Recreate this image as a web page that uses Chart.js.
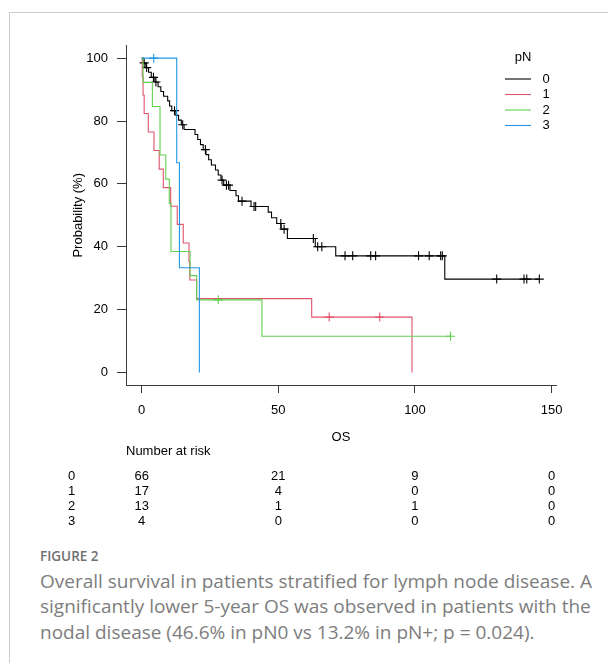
<!DOCTYPE html>
<html><head><meta charset="utf-8">
<script src="https://cdn.jsdelivr.net/npm/chart.js@4.4.0/dist/chart.umd.min.js"></script>
<style>
html,body{margin:0;padding:0;background:#fff;width:608px;height:663px;overflow:hidden;}
#card{position:absolute;left:9px;top:12px;width:640px;height:700px;border-top:1px solid #cdcdcd;border-left:1px solid #cdcdcd;}
#wrap{position:absolute;left:0;top:0;width:608px;height:540px;}
#fig{position:absolute;left:40px;top:547px;font-family:"Open Sans";font-weight:600;font-size:13.5px;color:#707070;white-space:nowrap;}
#cap{position:absolute;left:40px;top:568.5px;font-family:"Open Sans";font-size:19px;line-height:25.5px;color:#7d7d7d;white-space:nowrap;}
</style></head>
<body>
<div id="card"></div>
<div id="wrap"><canvas id="c" width="608" height="540"></canvas></div>
<div id="fig">FIGURE 2</div>
<div id="cap">Overall survival in patients stratified for lymph node disease. A<br>significantly lower 5-year OS was observed in patients with the<br>nodal disease (46.6% in pN0 vs 13.2% in pN+; p = 0.024).</div>
<script>
// ---- data ----
const groupLabels = ['0', '1', '2', '3'];
const groupColors = ['#000000', '#DF536B', '#61D04F', '#2297E6'];

// Kaplan-Meier step points (time, survival %)
const timesN0 = [0, 0.5, 1.5, 2.5, 3.5, 4.8, 6.0, 7.0, 8.0, 9.5, 10.2, 11.0, 12.5, 13.5, 14.5, 15.5, 19.5, 20.5, 21.5, 22.5, 23.5, 24.5, 25.5, 27.0, 28.0, 29.0, 30.0, 32.3, 34.5, 35.4, 40.0, 46.3, 47.5, 49.4, 51.0, 53.3, 63.5, 71.0, 110.9, 145.5];
const survN0  = [100, 98.5, 97.0, 95.5, 93.9, 92.4, 90.9, 89.4, 87.9, 86.4, 84.8, 83.3, 81.8, 80.3, 78.8, 77.3, 75.7, 74.1, 72.5, 70.9, 69.3, 67.7, 66.0, 64.4, 62.8, 61.2, 59.6, 57.9, 56.2, 54.5, 52.8, 51.0, 49.2, 47.4, 45.6, 42.6, 40.0, 37.1, 29.7, 29.7];
const censorN0 = [0.9, 1.8, 4.3, 5.2, 12.0, 15.0, 23.3, 29.4, 31.0, 31.8, 36.7, 41.1, 41.7, 50.9, 52.1, 62.8, 64.4, 65.9, 74.4, 77.2, 83.8, 85.6, 101.3, 105.2, 109.4, 110.0, 129.9, 139.9, 140.9, 145.5];

const timesN1 = [0, 0.2, 0.5, 0.9, 2.4, 4.5, 6.4, 7.9, 10.6, 13.0, 15.2, 17.3, 17.6, 20.1, 62.2, 98.9];
const survN1  = [100, 94.1, 88.2, 82.4, 76.5, 70.6, 64.7, 58.8, 52.9, 47.1, 41.2, 35.3, 29.4, 23.5, 17.6, 0];
const censorN1 = [68.6, 87.1];

const timesN2 = [0, 0.5, 3.9, 6.7, 8.8, 10.1, 10.7, 17.7, 20.1, 44.0, 113.0];
const survN2  = [100, 92.3, 84.6, 69.2, 61.5, 53.8, 38.5, 30.8, 23.1, 11.5, 11.5];
const censorN2 = [28.0, 113.0];

const timesN3 = [0, 12.8, 13.8, 21.1];
const survN3  = [100, 66.7, 33.3, 0];
const censorN3 = [4.4];

const xTicks = [0, 50, 100, 150];
const yTicks = [0, 20, 40, 60, 80, 100];
const riskTimes = [0, 50, 100, 150];
const riskN0 = [66, 21, 9, 0];
const riskN1 = [17, 4, 0, 0];
const riskN2 = [13, 1, 1, 0];
const riskN3 = [4, 0, 0, 0];

// ---- build ----
const allTimes = [timesN0, timesN1, timesN2, timesN3];
const allSurv = [survN0, survN1, survN2, survN3];
const allCens = [censorN0, censorN1, censorN2, censorN3];
const allRisk = [riskN0, riskN1, riskN2, riskN3];

function survAt(ts, ss, t) {
  let v = ss[0];
  for (let i = 0; i < ts.length; i++) { if (ts[i] <= t) v = ss[i]; }
  return v;
}

const datasets = [];
for (let g = 0; g < 4; g++) {
  datasets.push({
    label: groupLabels[g],
    data: allTimes[g].map((t, i) => ({x: t, y: allSurv[g][i]})),
    borderColor: groupColors[g],
    borderWidth: 1.1,
    stepped: 'before',
    pointRadius: 0,
    fill: false,
    order: 4 - g
  });
}
for (let g = 0; g < 4; g++) {
  datasets.push({
    type: 'scatter',
    label: 'cens' + g,
    data: allCens[g].map(t => ({x: t, y: survAt(allTimes[g], allSurv[g], t)})),
    showLine: false,
    pointStyle: 'cross',
    pointRadius: 4.5,
    borderColor: groupColors[g],
    borderWidth: 1.1,
    order: 4 - g
  });
}

const FONT = '"Liberation Sans", Arial, sans-serif';
const TXT = '#000';
const AX = '#3a3a3a';
const FS = 13;

const customPlugin = {
  id: 'kmExtras',
  afterDraw(chart) {
    const ctx = chart.ctx;
    const xs = chart.scales.x;
    ctx.save();
    ctx.font = FS + 'px ' + FONT;
    ctx.fillStyle = TXT;
    ctx.textBaseline = 'middle';
    // legend
    ctx.textAlign = 'center';
    ctx.fillText('pN', 523, 57);
    for (let g = 0; g < 4; g++) {
      const y = 79 + g * 15.5;
      ctx.strokeStyle = groupColors[g];
      ctx.lineWidth = 1.1;
      ctx.beginPath(); ctx.moveTo(505, y); ctx.lineTo(531, y); ctx.stroke();
      ctx.fillStyle = TXT;
      ctx.fillText(groupLabels[g], 546, y);
    }
    // number at risk
    ctx.textAlign = 'left';
    ctx.fillText('Number at risk', chart.chartArea.left, 451.7);
    ctx.textAlign = 'center';
    for (let g = 0; g < 4; g++) {
      const y = 476 + g * 15.3;
      ctx.fillText(groupLabels[g], 71.7, y);
      for (let k = 0; k < riskTimes.length; k++) {
        ctx.fillText(String(allRisk[g][k]), xs.getPixelForValue(riskTimes[k]), y);
      }
    }
    ctx.restore();
  }
};

new Chart(document.getElementById('c'), {
  type: 'line',
  data: {datasets},
  options: {
    responsive: false,
    devicePixelRatio: 1,
    animation: false,
    layout: {padding: {left: 0, right: 52, top: 45.6, bottom: 95}},
    plugins: {legend: {display: false}, tooltip: {enabled: false}},
    scales: {
      x: {
        type: 'linear', min: -5.75, max: 151.6,
        afterBuildTicks: s => { s.ticks = xTicks.map(v => ({value: v})); },
        afterFit: s => { s.height = 60; s.paddingLeft = 0; s.paddingRight = 0; },
        grid: {display: true, drawOnChartArea: false, drawTicks: true, tickLength: 8, color: AX, lineWidth: 1},
        border: {display: true, color: AX, width: 1},
        ticks: {color: TXT, font: {family: FONT, size: FS}, padding: 10, maxRotation: 0, autoSkip: false},
        title: {display: true, text: 'OS', color: TXT, font: {family: FONT, size: FS}, padding: {top: 0, bottom: 0.2}}
      },
      y: {
        type: 'linear', min: -4, max: 104,
        afterBuildTicks: s => { s.ticks = yTicks.map(v => ({value: v})); },
        afterFit: s => { s.width = 126; s.paddingTop = 0; s.paddingBottom = 0; },
        grid: {display: true, drawOnChartArea: false, drawTicks: true, tickLength: 9, color: AX, lineWidth: 1},
        border: {display: true, color: AX, width: 1},
        ticks: {color: TXT, font: {family: FONT, size: FS}, padding: 9, autoSkip: false},
        title: {display: true, text: 'Probability (%)', color: TXT, font: {family: FONT, size: FS}, padding: {top: 70.2, bottom: 0}}
      }
    }
  },
  plugins: [customPlugin]
});
</script>
</body></html>
